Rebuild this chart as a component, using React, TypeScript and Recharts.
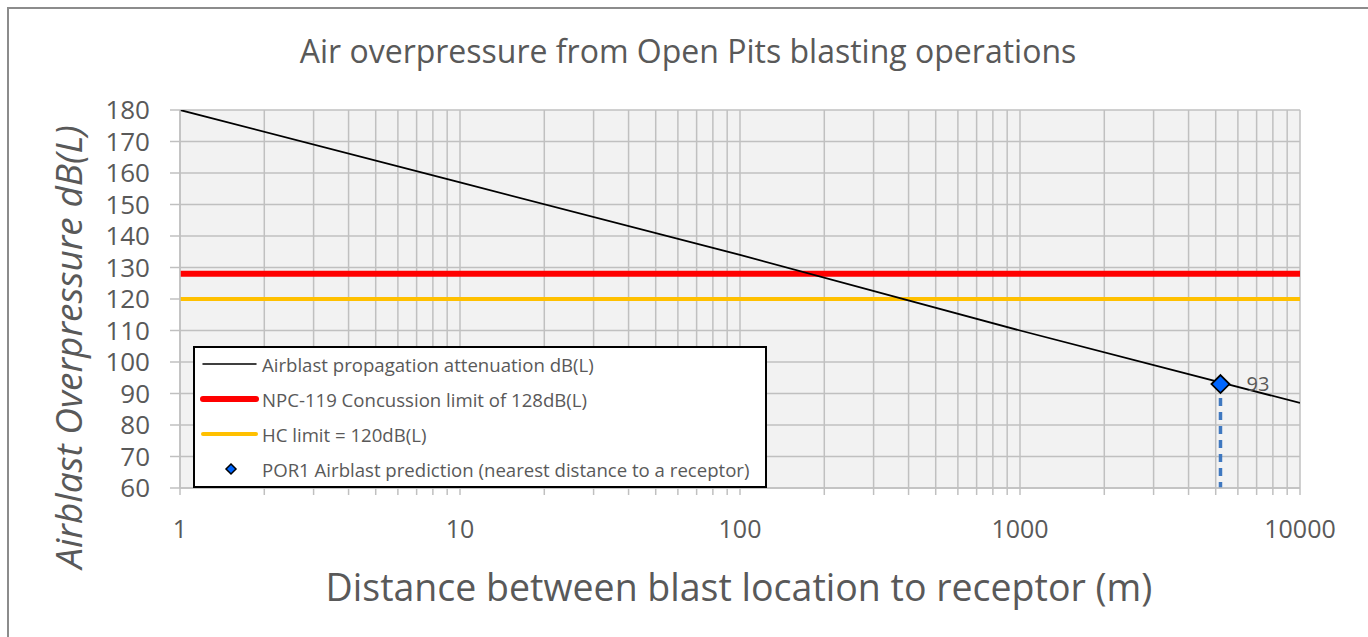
import { ComposedChart, Line, XAxis, YAxis, CartesianGrid, Legend, Label, LabelList } from "recharts";

const FONT = "'Open Sans', Lato, sans-serif";
const TEXT = "#595959";
const GRID = "#c0c0c0";

// distance axis (log) – majors are labelled, minors only get a tick + grid line
const DIST_TICKS = [
  1, 2, 3, 4, 5, 6, 7, 8, 9,
  10, 20, 30, 40, 50, 60, 70, 80, 90,
  100, 200, 300, 400, 500, 600, 700, 800, 900,
  1000, 2000, 3000, 4000, 5000, 6000, 7000, 8000, 9000,
  10000,
];
const DB_TICKS = [60, 70, 80, 90, 100, 110, 120, 130, 140, 150, 160, 170, 180];

const attenuation = [
  { d: 1, db: 180 },
  { d: 10, db: 157 },
  { d: 100, db: 134 },
  { d: 1000, db: 110 },
  { d: 10000, db: 87 },
];
const npcLimit = [
  { d: 1, db: 128 },
  { d: 10000, db: 128 },
];
const hcLimit = [
  { d: 1, db: 120 },
  { d: 10000, db: 120 },
];
const por1 = [{ d: 5200, db: 93 }];
const por1Drop = [
  { d: 5200, db: 93 },
  { d: 5200, db: 60 },
];

const legendItems = [
  { name: "Airblast propagation attenuation dB(L)", color: "#000000", width: 1.5, kind: "line" },
  { name: "NPC-119 Concussion limit of 128dB(L)", color: "#ff0000", width: 6, kind: "line" },
  { name: "HC limit = 120dB(L)", color: "#ffc000", width: 4, kind: "line" },
  { name: "POR1 Airblast prediction (nearest distance to a receptor)", color: "#0066ff", width: 0, kind: "diamond" },
];

function Diamond({ cx, cy, r = 9 }: { cx?: number; cy?: number; r?: number }) {
  if (cx == null || cy == null) return null;
  return (
    <path
      d={`M${cx},${cy - r} L${cx + r},${cy} L${cx},${cy + r} L${cx - r},${cy} Z`}
      fill="#0066ff"
      stroke="#000"
      strokeWidth={1.8}
    />
  );
}

function LegendBox() {
  return (
    <div
      style={{
        width: 570,
        height: 138,
        border: "2px solid #000",
        background: "#fff",
        fontFamily: FONT,
        fontSize: 18.6,
        color: TEXT,
        boxSizing: "content-box",
      }}
    >
      {legendItems.map((it, i) => (
        <div key={it.name} style={{ position: "absolute", left: 0, top: 18 + i * 35 - 12, height: 24, display: "flex", alignItems: "center" }}>
          <svg width={69} height={24} style={{ display: "block" }}>
            {it.kind === "line" ? (
              <line x1={10} x2={63} y1={12} y2={12} stroke={it.color} strokeWidth={it.width} strokeLinecap="round" />
            ) : (
              <path d="M38,7 L43,12 L38,17 L33,12 Z" fill={it.color} stroke="#000" strokeWidth={1.5} />
            )}
          </svg>
          <span style={{ whiteSpace: "nowrap" }}>{it.name}</span>
        </div>
      ))}
    </div>
  );
}

export default function App() {
  return (
    <div style={{ position: "absolute", left: 0, top: 0, width: 1368, height: 637, background: "#fff", overflow: "hidden" }}>
      <div style={{ position: "absolute", left: 7, top: 7, width: 1400, height: 700, borderLeft: "2px solid #8c8c8c", borderTop: "2px solid #8c8c8c" }} />
      <div
        style={{
          position: "absolute",
          left: 0,
          width: 1376,
          top: 29,
          textAlign: "center",
          fontFamily: FONT,
          fontSize: 32,
          color: TEXT,
        }}
      >
        Air overpressure from Open Pits blasting operations
      </div>
      <div style={{ position: "absolute", left: 0, top: 0 }}>
        <ComposedChart width={1368} height={637} margin={{ top: 110, right: 68, left: 100, bottom: 109 }}>
          <CartesianGrid fill="#f2f2f2" stroke={GRID} strokeWidth={1.5} horizontal vertical />
          <XAxis
            dataKey="d"
            type="number"
            scale="log"
            domain={[1, 10000]}
            ticks={DIST_TICKS}
            interval={0}
            allowDataOverflow
            height={40}
            axisLine={{ stroke: GRID, strokeWidth: 1.5 }}
            tickLine={{ stroke: GRID, strokeWidth: 1.5 }}
            tickSize={7}
            tickMargin={25}
            tick={{ fill: TEXT, fontSize: 25, fontFamily: FONT }}
            tickFormatter={(v: number) => (DIST_TICKS.indexOf(v) % 9 === 0 ? String(v) : "")}
          >
            <Label
              content={() => (
                <text x={739} y={586} textAnchor="middle" dominantBaseline="central" fontFamily={FONT} fontSize={37.5} fill={TEXT}>
                  Distance between blast location to receptor (m)
                </text>
              )}
            />
          </XAxis>
          <YAxis
            dataKey="db"
            type="number"
            domain={[60, 180]}
            ticks={DB_TICKS}
            interval={0}
            allowDataOverflow
            width={80}
            axisLine={{ stroke: GRID, strokeWidth: 1.5 }}
            tickLine={{ stroke: GRID, strokeWidth: 1.5 }}
            tickSize={10}
            tickMargin={20}
            tick={{ fill: TEXT, fontSize: 26, fontFamily: FONT }}
          >
            <Label
              content={() => (
                <text
                  x={67}
                  y={347}
                  transform="rotate(-90 67 347)"
                  textAnchor="middle"
                  dominantBaseline="central"
                  fontFamily={FONT}
                  fontStyle="italic"
                  fontSize={37}
                  fill={TEXT}
                >
                  Airblast Overpressure dB(L)
                </text>
              )}
            />
          </YAxis>
          <Legend
            layout="horizontal"
            verticalAlign="middle"
            align="center"
            wrapperStyle={{ left: 193, top: 346, width: 574, height: 142 }}
            content={() => <LegendBox />}
          />
          <Line data={npcLimit} dataKey="db" name="npc" stroke="#ff0000" strokeWidth={6} dot={false} isAnimationActive={false} />
          <Line data={hcLimit} dataKey="db" name="hc" stroke="#ffc000" strokeWidth={4} dot={false} isAnimationActive={false} />
          <Line data={attenuation} dataKey="db" name="attenuation" stroke="#000" strokeWidth={1.8} dot={false} isAnimationActive={false} />
          <Line
            data={por1Drop}
            dataKey="db"
            name="drop"
            stroke="#3f78c0"
            strokeWidth={3.5}
            strokeDasharray="8 6"
            dot={false}
            legendType="none"
            isAnimationActive={false}
          />
          <Line
            data={por1}
            dataKey="db"
            name="por1"
            stroke="none"
            dot={(p: any) => <Diamond key="por1" cx={p.cx} cy={p.cy} />}
            isAnimationActive={false}
          >
            <LabelList dataKey="db" position="right" offset={26} fill={TEXT} fontSize={20} fontFamily={FONT} />
          </Line>
        </ComposedChart>
      </div>
    </div>
  );
}
